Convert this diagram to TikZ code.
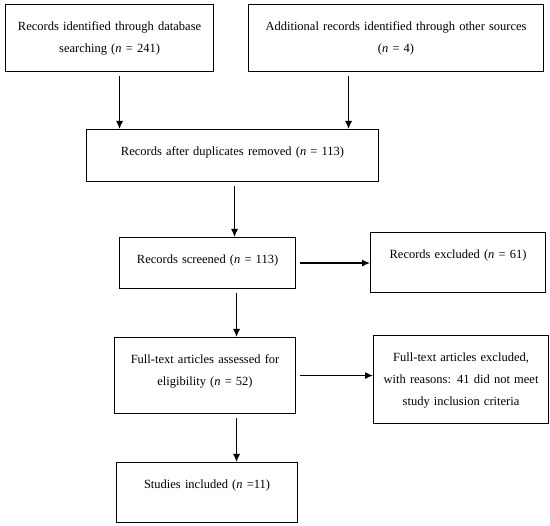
\documentclass[tikz,border=0pt]{standalone}
\usepackage{fontspec}
\setmainfont{Liberation Serif}
\usetikzlibrary{arrows.meta}
\begin{document}
\begin{tikzpicture}[x=1pt,y=-1pt,
    box/.style={draw, line width=1.1pt, anchor=north west, align=center,
      inner xsep=2pt, inner ysep=0pt, text height=26pt,
      font=\fontsize{12.5}{22}\selectfont},
    arr/.style={-{Latex[length=8pt,width=7pt]}, line width=1.2pt, shorten <=4pt}]
  \useasboundingbox (0,0) rectangle (550,526);

  % Draw the boxes
  \node[box, text width=204pt, text depth=41pt] (ident) at (5,4)
    {Records identified through database\\ searching (\textit{n} = 241)};
  \node[box, text width=291pt, text depth=41pt] (other) at (248,4)
    {Additional records identified through other sources\\ (\textit{n} = 4)};
  \node[box, text width=288pt, text depth=26pt] (dedup) at (86,129)
    {Records after duplicates removed (\textit{n} = 113)};
  \node[box, text width=172pt, text depth=25pt] (screen) at (119,237)
    {Records screened (\textit{n} = 113)};
  \node[box, text width=171pt, text depth=34pt] (excl) at (370,232)
    {Records excluded (\textit{n} = 61)};
  \node[box, text width=177pt, text depth=50pt] (fulltext) at (114,337)
    {Full-text articles assessed for\\ eligibility (\textit{n} = 52)};
  \node[box, text width=171pt, text depth=62pt] (ftexcl) at (373,335)
    {Full-text articles excluded,\\ with reasons: 41 did not meet\\ study inclusion criteria};
  \node[box, text width=177pt, text depth=34pt] (incl) at (116,462)
    {Studies included (\textit{n} =11)};

  % Draw the arrows
  \draw[arr] ([xshift=10pt]ident.south) -- ([xshift=10pt]ident.south |- dedup.north);
  \draw[arr] ([xshift=-47.5pt]other.south) -- ([xshift=-47.5pt]other.south |- dedup.north);
  \draw[arr] ([xshift=2pt]dedup.south) -- ([xshift=2pt]dedup.south |- screen.north);
  \draw[arr] (screen.east) -- (screen.east -| excl.west);
  \draw[arr] ([xshift=29pt]screen.south) -- ([xshift=29pt]screen.south |- fulltext.north);
  \draw[arr] (fulltext.east) -- (fulltext.east -| ftexcl.west);
  \draw[arr] ([xshift=31.5pt]fulltext.south) -- ([xshift=31.5pt]fulltext.south |- incl.north);
\end{tikzpicture}
\end{document}
